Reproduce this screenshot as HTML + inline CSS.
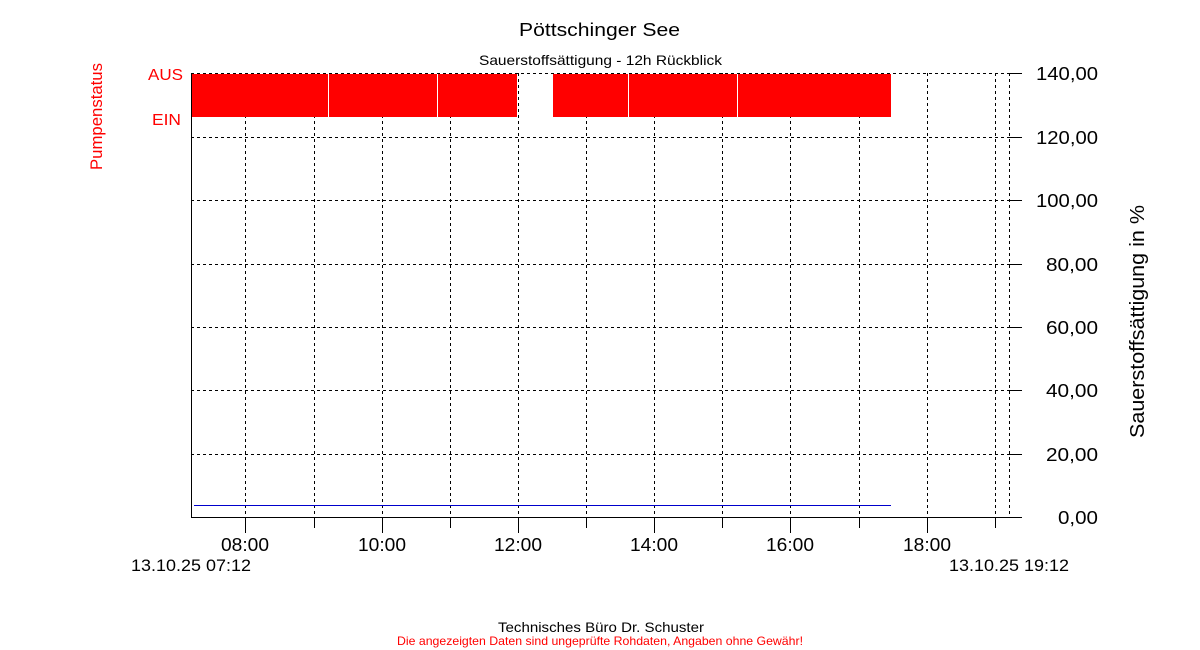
<!DOCTYPE html>
<html><head><meta charset="utf-8"><style>
html,body{margin:0;padding:0;background:#fff;}
svg{display:block;font-family:"Liberation Sans",sans-serif;}
</style></head><body>
<svg width="1200" height="650" viewBox="0 0 1200 650">
<text x="519" y="36" font-size="18" textLength="161" lengthAdjust="spacingAndGlyphs">Pöttschinger See</text>
<text x="479" y="65" font-size="14" textLength="243" lengthAdjust="spacingAndGlyphs">Sauerstoffsättigung - 12h Rückblick</text>
<g stroke="#000" stroke-width="1" stroke-dasharray="3,3" fill="none">
<line x1="191" y1="73.5" x2="1009" y2="73.5"/>
<line x1="191" y1="137.5" x2="1009" y2="137.5"/>
<line x1="191" y1="200.5" x2="1009" y2="200.5"/>
<line x1="191" y1="264.5" x2="1009" y2="264.5"/>
<line x1="191" y1="327.5" x2="1009" y2="327.5"/>
<line x1="191" y1="390.5" x2="1009" y2="390.5"/>
<line x1="191" y1="454.5" x2="1009" y2="454.5"/>
<line x1="245.5" y1="73" x2="245.5" y2="517"/>
<line x1="314.5" y1="73" x2="314.5" y2="517"/>
<line x1="382.5" y1="73" x2="382.5" y2="517"/>
<line x1="450.5" y1="73" x2="450.5" y2="517"/>
<line x1="518.5" y1="73" x2="518.5" y2="517"/>
<line x1="586.5" y1="73" x2="586.5" y2="517"/>
<line x1="654.5" y1="73" x2="654.5" y2="517"/>
<line x1="722.5" y1="73" x2="722.5" y2="517"/>
<line x1="790.5" y1="73" x2="790.5" y2="517"/>
<line x1="859.5" y1="73" x2="859.5" y2="517"/>
<line x1="927.5" y1="73" x2="927.5" y2="517"/>
<line x1="995.5" y1="73" x2="995.5" y2="517"/>
<line x1="1009.5" y1="73" x2="1009.5" y2="517"/>
</g>
<g fill="#ff0000">
<rect x="191" y="74" width="326" height="43"/>
<rect x="553" y="74" width="338" height="43"/>
</g>
<g stroke="#fff" stroke-width="1">
<line x1="328.5" y1="74" x2="328.5" y2="117"/>
<line x1="437.5" y1="74" x2="437.5" y2="117"/>
<line x1="628.5" y1="74" x2="628.5" y2="117"/>
<line x1="737.5" y1="74" x2="737.5" y2="117"/>
</g>
<line x1="194" y1="505.5" x2="891" y2="505.5" stroke="#0000cc" stroke-width="1"/>
<g stroke="#000" stroke-width="1">
<line x1="191.5" y1="73" x2="191.5" y2="518"/>
<line x1="191" y1="517.5" x2="1022" y2="517.5"/>
<line x1="1009" y1="73.5" x2="1022" y2="73.5"/>
<line x1="1009" y1="137.5" x2="1022" y2="137.5"/>
<line x1="1009" y1="200.5" x2="1022" y2="200.5"/>
<line x1="1009" y1="264.5" x2="1022" y2="264.5"/>
<line x1="1009" y1="327.5" x2="1022" y2="327.5"/>
<line x1="1009" y1="390.5" x2="1022" y2="390.5"/>
<line x1="1009" y1="454.5" x2="1022" y2="454.5"/>
<line x1="245.5" y1="517" x2="245.5" y2="533"/>
<line x1="382.5" y1="517" x2="382.5" y2="533"/>
<line x1="518.5" y1="517" x2="518.5" y2="533"/>
<line x1="654.5" y1="517" x2="654.5" y2="533"/>
<line x1="790.5" y1="517" x2="790.5" y2="533"/>
<line x1="927.5" y1="517" x2="927.5" y2="533"/>
<line x1="314.5" y1="517" x2="314.5" y2="528"/>
<line x1="450.5" y1="517" x2="450.5" y2="528"/>
<line x1="586.5" y1="517" x2="586.5" y2="528"/>
<line x1="722.5" y1="517" x2="722.5" y2="528"/>
<line x1="859.5" y1="517" x2="859.5" y2="528"/>
<line x1="995.5" y1="517" x2="995.5" y2="528"/>
</g>
<g font-size="18">
<text x="1036" y="80" textLength="62" lengthAdjust="spacingAndGlyphs">140,00</text>
<text x="1036" y="144" textLength="62" lengthAdjust="spacingAndGlyphs">120,00</text>
<text x="1036" y="207" textLength="62" lengthAdjust="spacingAndGlyphs">100,00</text>
<text x="1046" y="271" textLength="52" lengthAdjust="spacingAndGlyphs">80,00</text>
<text x="1046" y="334" textLength="52" lengthAdjust="spacingAndGlyphs">60,00</text>
<text x="1046" y="397" textLength="52" lengthAdjust="spacingAndGlyphs">40,00</text>
<text x="1046" y="461" textLength="52" lengthAdjust="spacingAndGlyphs">20,00</text>
<text x="1058" y="524" textLength="40" lengthAdjust="spacingAndGlyphs">0,00</text>
</g>
<g font-size="18">
<text x="221" y="551" textLength="48" lengthAdjust="spacingAndGlyphs">08:00</text>
<text x="358" y="551" textLength="48" lengthAdjust="spacingAndGlyphs">10:00</text>
<text x="494" y="551" textLength="48" lengthAdjust="spacingAndGlyphs">12:00</text>
<text x="630" y="551" textLength="48" lengthAdjust="spacingAndGlyphs">14:00</text>
<text x="766" y="551" textLength="48" lengthAdjust="spacingAndGlyphs">16:00</text>
<text x="903" y="551" textLength="48" lengthAdjust="spacingAndGlyphs">18:00</text>
</g>
<text x="131" y="571" font-size="17" textLength="120" lengthAdjust="spacingAndGlyphs">13.10.25 07:12</text>
<text x="949" y="571" font-size="17" textLength="120" lengthAdjust="spacingAndGlyphs">13.10.25 19:12</text>
<text transform="translate(1144,438) rotate(-90)" font-size="20" textLength="233" lengthAdjust="spacingAndGlyphs">Sauerstoffsättigung in %</text>
<g fill="#ff0000" font-size="16">
<text x="148" y="80" textLength="35" lengthAdjust="spacingAndGlyphs">AUS</text>
<text x="152" y="125" textLength="29" lengthAdjust="spacingAndGlyphs">EIN</text>
<text transform="translate(102,170) rotate(-90)" font-size="17" textLength="107" lengthAdjust="spacingAndGlyphs">Pumpenstatus</text>
</g>
<text x="498" y="632" font-size="14" textLength="206" lengthAdjust="spacingAndGlyphs">Technisches Büro Dr. Schuster</text>
<text x="397" y="645" font-size="12" fill="#ff0000" textLength="406" lengthAdjust="spacingAndGlyphs">Die angezeigten Daten sind ungeprüfte Rohdaten, Angaben ohne Gewähr!</text>
</svg>
</body></html>
